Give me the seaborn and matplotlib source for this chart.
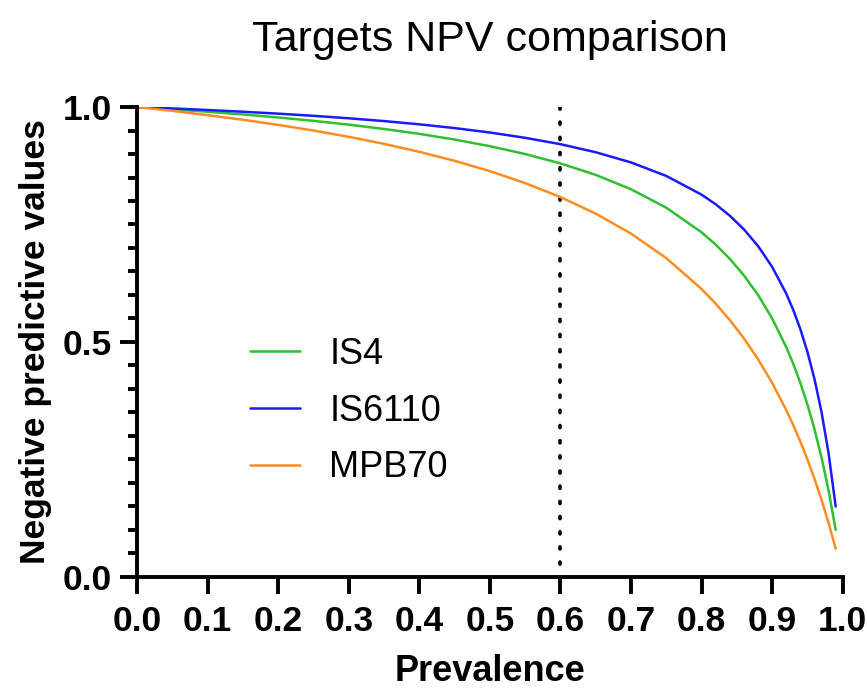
import numpy as np
import pandas as pd
import matplotlib
matplotlib.use("Agg")
import matplotlib.pyplot as plt
from matplotlib.ticker import MultipleLocator
import seaborn as sns

prevalence = [0.0, 0.05, 0.10, 0.15, 0.20, 0.25, 0.30, 0.35, 0.40, 0.45, 0.50,
              0.55, 0.60, 0.65, 0.70, 0.75, 0.80, 0.82, 0.84, 0.86, 0.88, 0.90,
              0.92, 0.93, 0.94, 0.95, 0.96, 0.97, 0.98, 0.99]
npv_is4 = [1.0, 0.9952, 0.9900, 0.9842, 0.9778, 0.9706, 0.9625, 0.9533, 0.9429,
           0.9308, 0.9167, 0.9000, 0.8800, 0.8556, 0.8250, 0.7857, 0.7333, 0.7072,
           0.6769, 0.6417, 0.6000, 0.5500, 0.4889, 0.4530, 0.4125, 0.3667, 0.3143,
           0.2539, 0.1833, 0.1000]
npv_is6110 = [1.0, 0.9970, 0.9937, 0.9900, 0.9859, 0.9813, 0.9760, 0.9701, 0.9632,
              0.9552, 0.9458, 0.9345, 0.9209, 0.9038, 0.8821, 0.8533, 0.8135, 0.7930,
              0.7687, 0.7396, 0.7041, 0.6598, 0.6028, 0.5678, 0.5270, 0.4788, 0.4210,
              0.3505, 0.2626, 0.1499]
npv_mpb70 = [1.0, 0.9918, 0.9827, 0.9729, 0.9620, 0.9500, 0.9366, 0.9216, 0.9047,
             0.8855, 0.8636, 0.8381, 0.8084, 0.7731, 0.7306, 0.6784, 0.6127, 0.5815,
             0.5466, 0.5075, 0.4632, 0.4129, 0.3550, 0.3227, 0.2877, 0.2499, 0.2087,
             0.1637, 0.1144, 0.0601]
series_names = ["IS4", "IS6110", "MPB70"]
cutoff = 0.6
x_ticks = [0.0, 0.1, 0.2, 0.3, 0.4, 0.5, 0.6, 0.7, 0.8, 0.9, 1.0]
y_ticks = [0.0, 0.5, 1.0]

df = pd.concat([
    pd.DataFrame({"Prevalence": prevalence, "NPV": vals, "Target": name})
    for name, vals in zip(series_names, [npv_is4, npv_is6110, npv_mpb70])
], ignore_index=True)

sns.set_theme(style="ticks")
plt.rcParams["font.family"] = ["Liberation Sans", "DejaVu Sans"]
plt.rcParams["text.color"] = "black"
plt.rcParams["axes.labelcolor"] = "black"
plt.rcParams["xtick.color"] = "black"
plt.rcParams["ytick.color"] = "black"

fig = plt.figure(figsize=(8.67, 6.95), dpi=100)
ax = fig.add_axes([0.158, 0.170, 0.814, 0.676])

palette = {"IS4": "#2fbf2f", "IS6110": "#1a1aff", "MPB70": "#ff8c1f"}
sns.lineplot(data=df, x="Prevalence", y="NPV", hue="Target", palette=palette,
             linewidth=1.8, ax=ax, sort=False)

ax.vlines(cutoff, 1.0, 0.0, colors="black", linewidth=2.6,
          linestyles=[(0, (0.6, 3.6))], capstyle="round", zorder=1)

ax.set_xlim(0, 1.0)
ax.set_ylim(0, 1.0)
ax.set_xticks(x_ticks)
ax.set_xticklabels([f"{t:.1f}" for t in x_ticks])
ax.set_yticks(y_ticks)
ax.set_yticklabels([f"{t:.1f}" for t in y_ticks])
ax.yaxis.set_minor_locator(MultipleLocator(0.05))

for s in ["top", "right"]:
    ax.spines[s].set_visible(False)
for s in ["left", "bottom"]:
    ax.spines[s].set_linewidth(2.8)
    ax.spines[s].set_color("black")

ax.tick_params(axis="both", which="major", length=12, width=2.8, color="black",
               labelsize=25.5, labelcolor="black")
ax.tick_params(axis="x", which="major", pad=8)
ax.tick_params(axis="y", which="major", pad=6)
ax.tick_params(axis="y", which="minor", length=6.5, width=2.8, color="black")
for lab in ax.get_xticklabels() + ax.get_yticklabels():
    lab.set_fontweight("bold")

ax.set_xlabel("Prevalence", fontsize=26, fontweight="bold", labelpad=12, color="black")
ax.set_ylabel("Negative predictive values", fontsize=25.5, fontweight="bold",
              labelpad=8, color="black")
ax.set_title("Targets NPV comparison", fontsize=31, pad=40, color="black")

leg = ax.legend(loc="center left", bbox_to_anchor=(0.16, 0.353), frameon=False,
                fontsize=26, handlelength=1.4, handletextpad=0.8, labelspacing=0.6,
                borderpad=0, borderaxespad=0)
for text in leg.get_texts():
    text.set_color("black")
for line in leg.get_lines():
    line.set_linewidth(1.8)

fig.savefig("out.png", dpi=100)
